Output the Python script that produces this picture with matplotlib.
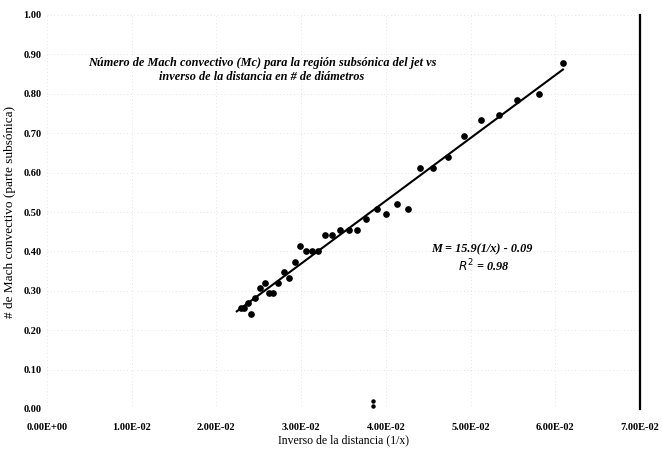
import matplotlib.pyplot as plt
import numpy as np

# inverso de la distancia (1/x) y Mach convectivo, parte subsonica
inv_dist = [0.0229, 0.0232, 0.0237, 0.0241, 0.0246, 0.0251, 0.0257, 0.0262,
            0.0267, 0.0273, 0.0280, 0.0286, 0.0293, 0.0299, 0.0306, 0.0313,
            0.0320, 0.0328, 0.0337, 0.0346, 0.0356, 0.0366, 0.0377, 0.0389,
            0.0400, 0.0413, 0.0426, 0.0440, 0.0456, 0.0473, 0.0492, 0.0512,
            0.0533, 0.0555, 0.0581, 0.0609]
mach = [0.256, 0.256, 0.268, 0.240, 0.281, 0.308, 0.321, 0.294,
        0.294, 0.321, 0.347, 0.333, 0.374, 0.414, 0.400, 0.400,
        0.400, 0.442, 0.442, 0.454, 0.454, 0.454, 0.482, 0.508,
        0.494, 0.520, 0.508, 0.612, 0.612, 0.640, 0.693, 0.733,
        0.745, 0.784, 0.799, 0.877]

# puntos sueltos cerca de cero
inv_dist_out = [0.0385, 0.0385]
mach_out = [0.020, 0.008]

x_ticks = [0.00, 0.01, 0.02, 0.03, 0.04, 0.05, 0.06, 0.07]
x_labels = ['0.00E+00', '1.00E-02', '2.00E-02', '3.00E-02', '4.00E-02',
            '5.00E-02', '6.00E-02', '7.00E-02']
y_ticks = [0.0, 0.1, 0.2, 0.3, 0.4, 0.5, 0.6, 0.7, 0.8, 0.9, 1.0]

serif = 'Liberation Serif'

fig = plt.figure(figsize=(6.62, 4.53), dpi=100)
ax = fig.add_axes([47 / 662, 44 / 453, 593 / 662, 394 / 453])

# linea de tendencia (minimos cuadrados)
coef = np.polyfit(inv_dist, mach, 1)
xf = np.array([min(inv_dist) - 0.0005, max(inv_dist)])
ax.plot(xf, np.polyval(coef, xf), color='black', lw=1.5, zorder=2)

ax.plot(inv_dist, mach, 'o', color='black', ms=3.8, zorder=3)
ax.plot(inv_dist_out, mach_out, 'o', color='black', ms=2.2, zorder=3)

ax.set_xlim(0, 0.07)
ax.set_ylim(0, 1.0)
ax.set_xticks(x_ticks)
ax.set_xticklabels(x_labels)
ax.set_yticks(y_ticks)
ax.set_yticklabels([f'{v:.2f}' for v in y_ticks])
ax.tick_params(length=0, labelsize=7.5)
ax.tick_params(axis='x', pad=10)
ax.tick_params(axis='y', pad=4)
for lab in ax.get_xticklabels() + ax.get_yticklabels():
    lab.set_fontfamily(serif)
    lab.set_fontweight('bold')

ax.grid(True, color='#cfcfcf', lw=0.5, ls=(0, (1, 4)))
ax.set_axisbelow(True)

for s in ['top', 'left', 'bottom']:
    ax.spines[s].set_visible(False)
ax.spines['right'].set_color('black')
ax.spines['right'].set_linewidth(1.6)

ax.set_xlabel('Inverso de la distancia (1/x)', fontfamily=serif,
              fontsize=8.5, labelpad=2)
ax.set_ylabel('# de Mach convectivo (parte subsónica)', fontfamily=serif,
              fontsize=9.5, labelpad=5)

fig.text(262 / 662, 1 - 70 / 453,
         'Número de Mach convectivo (Mc) para la región subsónica del jet vs\n'
         'inverso de la distancia en # de diámetros',
         ha='center', va='center', fontfamily=serif, fontsize=8.8,
         fontweight='bold', style='italic', linespacing=1.3)

ax.text(0.0453, 0.405, 'M = 15.9(1/x) - 0.09', fontfamily=serif,
        fontsize=8.8, fontweight='bold', style='italic', ha='left', va='center')
ax.text(0.0485, 0.362, '$R^2$ = 0.98', fontfamily=serif,
        fontsize=8.8, fontweight='bold', style='italic', ha='left', va='center')

fig.savefig('out.png', dpi=100, facecolor='white')
